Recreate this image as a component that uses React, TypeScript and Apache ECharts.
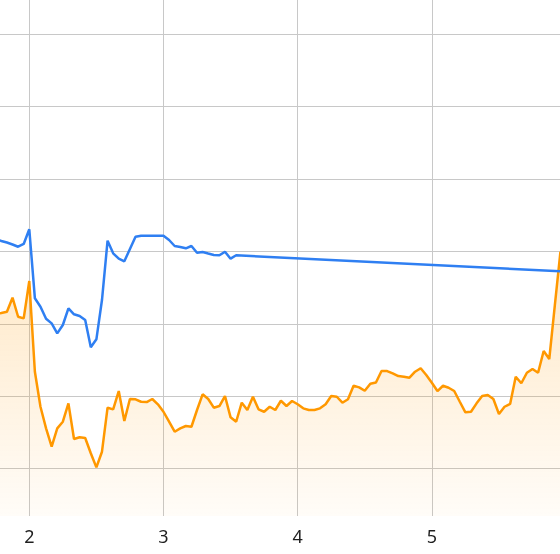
import React, { useEffect, useRef } from "react";
import * as echarts from "echarts";

// x axis is in days, samples are hourly (x = hour / 24)
const X_MIN = 1.7817;
const X_MAX = 5.955;
const Y_MIN = 3.47;
const Y_MAX = 74.74;

const ORANGE_START_HOUR = 42;
const orangeValues = [
  31.37, 31.51, 31.69, 33.62, 30.99, 30.77, 35.93, 23.4, 18.56, 15.58,
  13.04, 15.58, 16.49, 19.03, 14.1, 14.34, 14.24, 12.13, 10.19, 12.35,
  18.43, 18.2, 20.73, 16.59, 19.63, 19.59, 19.25, 19.21, 19.63, 18.9,
  17.87, 16.49, 15.11, 15.58, 15.9, 15.8, 18.11, 20.28, 19.63, 18.43,
  18.66, 20.04, 17.1, 16.49, 19.12, 18.11, 19.94, 18.2, 17.87, 18.56,
  18.11, 19.39, 18.66, 19.35, 18.9, 18.34, 18.11, 18.11, 18.34, 18.9,
  20.04, 19.94, 19.12, 19.59, 21.46, 21.24, 20.77, 21.74, 21.91, 23.49,
  23.49, 23.18, 22.8, 22.71, 22.57, 23.4, 23.87, 22.94, 21.88, 20.73,
  21.46, 21.19, 20.73, 19.25, 17.79, 17.87, 19.03, 20.04, 20.18, 19.63,
  17.56, 18.56, 18.94, 22.71, 21.8, 23.26, 23.77, 23.26, 26.26, 25.15,
  32.61, 39.97,
];

const BLUE_START_HOUR = 42;
const blueValues = [
  41.73, 41.45, 41.24, 40.97, 40.66, 41.04, 43.07, 33.54, 32.38, 30.72,
  30.08, 28.7, 29.85, 32.15, 31.33, 31.09, 30.54, 26.77, 27.87, 33.3,
  41.49, 39.75, 39.01, 38.65, 40.35, 42.04, 42.18, 42.18, 42.18, 42.18,
  42.18, 41.59, 40.76, 40.62, 40.44, 40.76, 39.83, 39.93, 39.72, 39.52,
  39.48, 39.97, 39.01, 39.48,
];
const BLUE_LAST_HOUR = 143;
const BLUE_LAST_VALUE = 37.27;

export default function App() {
  const ref = useRef<HTMLDivElement>(null);

  useEffect(() => {
    if (!ref.current) return;
    const chart = echarts.init(ref.current, undefined, { renderer: "svg" });

    const orangeData = orangeValues.map((v, i) => [
      (ORANGE_START_HOUR + i) / 24,
      v,
    ]);
    const blueData = blueValues.map((v, i) => [(BLUE_START_HOUR + i) / 24, v]);
    blueData.push([BLUE_LAST_HOUR / 24, BLUE_LAST_VALUE]);

    chart.setOption({
      animation: false,
      grid: { left: 0, right: 0, top: 0, bottom: 38, containLabel: false },
      xAxis: {
        type: "value",
        min: X_MIN,
        max: X_MAX,
        axisLine: { show: false },
        axisTick: { show: false },
        axisLabel: {
          showMinLabel: false,
          showMaxLabel: false,
          fontSize: 18,
          color: "#1f1f1f",
          margin: 11,
          fontFamily: "Noto Sans",
        },
        splitLine: {
          show: true,
          showMinLine: false,
          showMaxLine: false,
          lineStyle: { color: "#c8c8c8", width: 1 },
        },
      },
      yAxis: {
        type: "value",
        min: Y_MIN,
        max: Y_MAX,
        axisLine: { show: false },
        axisTick: { show: false },
        axisLabel: { show: false },
        splitLine: {
          show: true,
          showMinLine: false,
          showMaxLine: false,
          lineStyle: { color: "#c8c8c8", width: 1 },
        },
      },
      series: [
        {
          type: "line",
          data: orangeData,
          showSymbol: false,
          symbol: "none",
          lineStyle: { color: "#ff9800", width: 2.5 },
          itemStyle: { color: "#ff9800" },
          areaStyle: {
            origin: "start",
            color: new echarts.graphic.LinearGradient(0, 0, 0, 1, [
              { offset: 0, color: "rgba(255,152,0,0.32)" },
              { offset: 1, color: "rgba(255,152,0,0.04)" },
            ]),
          },
        },
        {
          type: "line",
          data: blueData,
          showSymbol: false,
          symbol: "none",
          lineStyle: { color: "#2f7ff2", width: 2.5 },
          itemStyle: { color: "#2f7ff2" },
        },
      ],
    });

    return () => chart.dispose();
  }, []);

  return (
    <div
      ref={ref}
      style={{ position: "fixed", left: 0, top: 0, width: 560, height: 554 }}
    />
  );
}
